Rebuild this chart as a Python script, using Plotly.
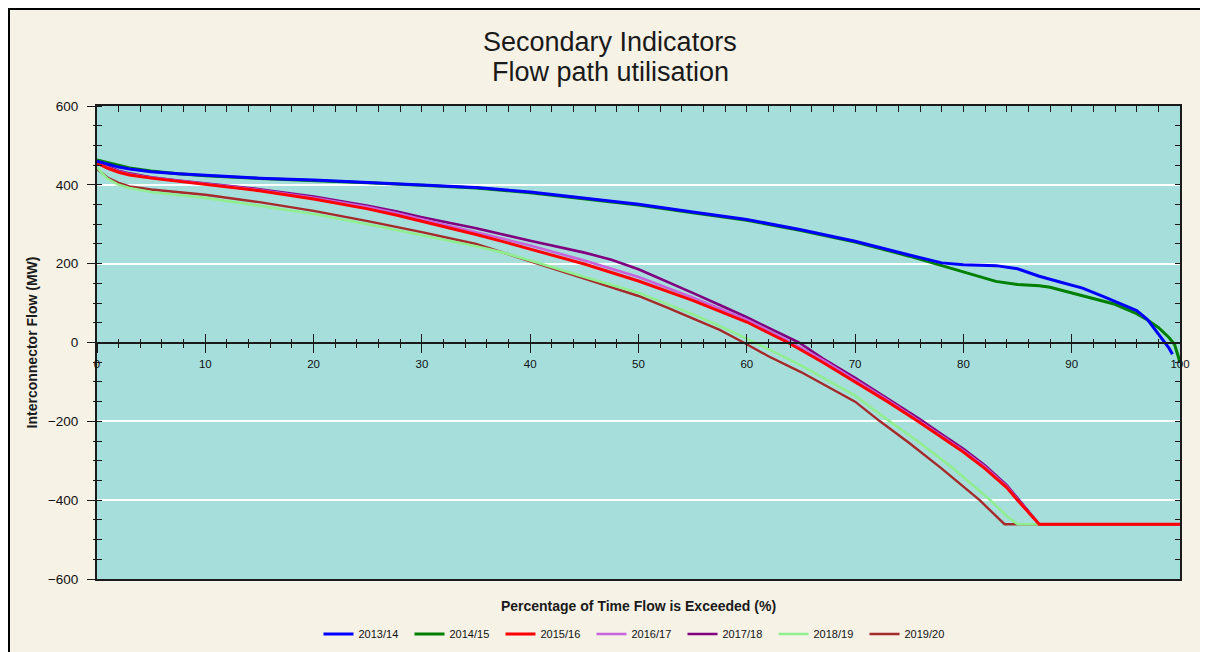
import plotly.graph_objects as go

# ---------------- data ----------------
seasons = ["2013/14", "2014/15", "2015/16", "2016/17", "2017/18", "2018/19", "2019/20"]
colors = ["#0000FF", "#008000", "#FF0000", "#C864DC", "#800080", "#90EE90", "#A52A2A"]

pct_1314 = [0, 1, 2, 3, 5, 7.5, 10, 15, 20, 25, 30, 35, 40, 45, 50, 55, 60, 65, 70, 75, 78, 80, 83, 85, 87,
            89, 91, 93, 95, 96, 97, 98, 99, 99.3]
flow_1314 = [460, 452, 445, 440, 433, 428, 424, 417, 412, 406, 400, 393, 382, 367, 351, 331, 312, 286, 257, 222,
             202, 197, 195, 187, 168, 153, 138, 116, 93, 81, 58, 22, -15, -30]

pct_1415 = [0, 1, 2, 3, 5, 7.5, 10, 15, 20, 25, 30, 35, 40, 45, 50, 55, 60, 65, 70, 75, 77, 79, 81, 83, 85, 87,
            88, 90, 92, 94, 96, 97, 98, 99, 99.5, 100]
flow_1415 = [463, 457, 450, 443, 435, 428, 423, 416, 411, 405, 399, 392, 380, 365, 349, 329, 310, 284, 255, 219,
             203, 187, 170, 155, 147, 144, 140, 126, 112, 97, 73, 57, 38, 12, -5, -50]

pct_1516 = [0, 1, 2, 3, 5, 7.5, 10, 15, 20, 25, 27.7, 30, 35, 37.5, 40, 45, 50, 55, 60, 63.8, 67, 70, 73, 75.8,
            78, 80, 82, 84, 85, 86, 87, 100]
flow_1516 = [455, 442, 432, 425, 417, 409, 402, 385, 364, 339, 323, 308, 274, 256, 237, 199, 156, 107, 52, 0,
             -50, -100, -150, -200, -240, -278, -320, -368, -400, -430, -461, -461]

pct_1617 = [0, 1, 2, 3, 5, 7.5, 10, 15, 20, 25, 27.7, 30, 35, 37.5, 40, 45, 50, 55, 60, 63.8, 67, 70, 73, 75.8,
            78, 80, 82, 84, 85, 86, 87, 100]
flow_1617 = [457, 444, 434, 427, 418, 410, 403, 387, 367, 344, 328, 313, 281, 263, 246, 208, 166, 114, 58, 5,
             -44, -95, -146, -197, -237, -275, -316, -365, -398, -430, -461, -461]

pct_1718 = [0, 1, 2, 3, 5, 7.5, 10, 15, 20, 25, 27.7, 30, 35, 37.5, 40, 45, 47.5, 50, 52.5, 55, 57.5, 60, 64.8,
            67, 70, 73, 76, 78, 80, 82, 84, 85, 86, 87, 100]
flow_1718 = [458, 446, 436, 429, 419, 411, 404, 389, 370, 347, 332, 318, 290, 274, 258, 228, 210, 186, 157, 126,
             95, 64, 0, -40, -90, -143, -195, -233, -270, -312, -362, -395, -428, -461, -461]

pct_1819 = [0, 0.5, 1, 2, 3, 5, 7.5, 10, 15, 20, 25, 27.7, 30, 35, 37.5, 40, 45, 50, 52.6, 55, 57.5, 60, 60.8,
            63, 65, 68, 70, 73.2, 76, 79, 82.5, 84, 85, 100]
flow_1819 = [445, 428, 415, 400, 392, 382, 374, 367, 347, 326, 300, 285, 272, 244, 228, 208, 166, 126, 98, 72, 42,
             10, 0, -30, -58, -105, -135, -200, -255, -318, -400, -440, -461, -461]

pct_1920 = [0, 0.5, 1, 2, 3, 5, 7.5, 10, 15, 20, 25, 27.7, 30, 35, 37.5, 40, 45, 50, 52.6, 55, 57.5, 59.7, 62,
            65, 68, 70, 72.3, 75, 78, 81.5, 83, 83.8, 100]
flow_1920 = [440, 428, 418, 405, 396, 388, 381, 375, 356, 334, 308, 293, 280, 250, 229, 206, 162, 118, 89, 62, 32,
             0, -35, -75, -120, -150, -200, -255, -320, -400, -440, -461, -461]

pcts = [pct_1314, pct_1415, pct_1516, pct_1617, pct_1718, pct_1819, pct_1920]
flows = [flow_1314, flow_1415, flow_1516, flow_1617, flow_1718, flow_1819, flow_1920]
widths = [3, 3, 3, 2.6, 2.6, 2.6, 2.4]

title_lines = ["Secondary Indicators", "Flow path utilisation"]
x_title = "Percentage of Time Flow is Exceeded (%)"
y_title = "Interconnector Flow (MW)"

x_range = [0, 100]
y_range = [-600, 600]

# ---------------- figure ----------------
AX = "#1a1a1a"
FONT = "Liberation Sans, Arial, sans-serif"
W, H = 1196, 644
ML, MR, MT, MB = 89, 24, 98, 73
PW, PH = W - ML - MR, H - MT - MB

fig = go.Figure()
# later seasons drawn first so 2013/14 ends up on top (as in reference)
for i in reversed(range(len(seasons))):
    fig.add_trace(go.Scatter(x=pcts[i], y=flows[i], name=seasons[i], mode="lines",
                             line=dict(color=colors[i], width=widths[i]), hoverinfo="name+x+y"))

# empty helper traces so the decorative overlay axes are drawn
for xa, ya in [("x2", "y"), ("x3", "y"), ("x4", "y"), ("x", "y2"), ("x", "y3")]:
    fig.add_trace(go.Scatter(x=[], y=[], xaxis=xa, yaxis=ya, showlegend=False, hoverinfo="skip"))

# two-line title (tight line spacing like the reference)
title_centres_px = [34, 64]  # from the top of the figure
for txt, cy in zip(title_lines, title_centres_px):
    fig.add_annotation(text=txt, xref="paper", yref="paper", x=(602 - ML) / PW, y=1 + (MT - cy) / PH,
                       xanchor="center", yanchor="middle", showarrow=False,
                       font=dict(family=FONT, size=27, color="#1a1a1a"))

fig.update_layout(
    width=W, height=H,
    margin=dict(l=ML, r=MR, t=MT, b=MB, autoexpand=False),
    paper_bgcolor="#F6F2E6",
    plot_bgcolor="#A6DEDB",
    font=dict(family=FONT, color="#111111"),
    showlegend=True,
    legend=dict(orientation="h", traceorder="reversed", xref="container", yref="container",
                x=629 / W, xanchor="center", y=1 - 626 / H, yanchor="middle",
                font=dict(size=11, color="#111111"), itemwidth=30, entrywidth=46,
                bgcolor="rgba(0,0,0,0)"),
    xaxis=dict(range=x_range, showgrid=False, zeroline=False, showline=True, linecolor=AX, linewidth=1.5,
               ticks="", showticklabels=False, fixedrange=True, automargin=False,
               title=dict(text="<b>" + x_title + "</b>", font=dict(size=14, color="#1a1a1a"), standoff=21)),
    xaxis2=dict(overlaying="x", anchor="free", position=0.5, range=x_range, tickmode="linear", tick0=0, dtick=10,
                ticks="outside", ticklen=9, tickwidth=1.3, tickcolor=AX,
                minor=dict(dtick=2, ticks="outside", ticklen=4, tickwidth=1.2, tickcolor=AX),
                showline=True, linecolor=AX, linewidth=2, showgrid=False, zeroline=False, automargin=False,
                tickfont=dict(size=11.5, color="#111111"), ticklabelstandoff=2),
    xaxis3=dict(overlaying="x", anchor="free", position=0.5, range=x_range, tickmode="linear", tick0=0, dtick=10,
                ticks="inside", ticklen=9, tickwidth=1.3, tickcolor=AX, automargin=False,
                minor=dict(dtick=2, ticks="inside", ticklen=4, tickwidth=1.2, tickcolor=AX),
                showticklabels=False, showline=False, showgrid=False, zeroline=False),
    xaxis4=dict(overlaying="x", side="top", anchor="y", range=x_range, tickmode="linear", tick0=0, dtick=2,
                ticks="inside", ticklen=6, tickwidth=1.2, tickcolor=AX, showticklabels=False, automargin=False,
                showline=True, linecolor=AX, linewidth=1.5, showgrid=False, zeroline=False),
    yaxis=dict(range=y_range, tickmode="linear", tick0=0, dtick=200, ticks="outside", ticklen=8, tickwidth=1.3,
               tickcolor=AX, minor=dict(dtick=50, ticks="inside", ticklen=5, tickwidth=1.2, tickcolor=AX),
               showline=True, linecolor=AX, linewidth=2, showgrid=True, gridcolor="white", gridwidth=1.6,
               zeroline=False, tickfont=dict(size=13.5, color="#111111"), ticklabelstandoff=6, fixedrange=True,
               automargin=False,
               title=dict(text="<b>" + y_title + "</b>", font=dict(size=14, color="#1a1a1a"), standoff=7)),
    yaxis2=dict(overlaying="y", side="left", anchor="x", range=y_range, tickmode="linear", tick0=0, dtick=50,
                ticks="outside", ticklen=3, tickwidth=1.2, tickcolor=AX, showticklabels=False, automargin=False,
                showline=False, showgrid=False, zeroline=False),
    yaxis3=dict(overlaying="y", side="right", anchor="x", range=y_range, tickmode="linear", tick0=0, dtick=50,
                ticks="inside", ticklen=5, tickwidth=1.2, tickcolor=AX, showticklabels=False, automargin=False,
                showline=True, linecolor=AX, linewidth=1.5, showgrid=False, zeroline=False),
    shapes=[
        dict(type="rect", xref="paper", yref="paper",
             x0=(1 - ML) / PW, x1=(W - 1 - ML) / PW, y0=-(MB + 10) / PH, y1=1 + (MT - 1) / PH,
             fillcolor="rgba(0,0,0,0)", line=dict(color="black", width=2), layer="above"),
    ],
)

fig.write_html("out.html")
